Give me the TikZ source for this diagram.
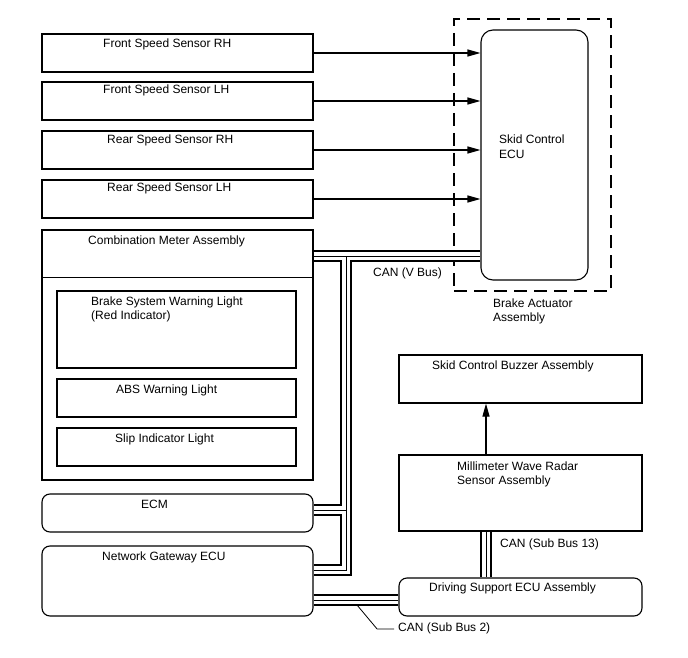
\documentclass[tikz,border=0pt]{standalone}
\usepackage{fontspec}
\setmainfont{Liberation Sans}
\usetikzlibrary{arrows.meta,positioning,calc}
\tikzset{
  box/.style={draw=black, line width=1.1pt, inner sep=0pt},
  rbox/.style={box, rounded corners=8pt},
  lbl/.style={anchor=base west, inner sep=0pt, align=left,
              font=\fontsize{12}{14}\selectfont},
  arrow/.style={-{Triangle[length=13pt,width=7pt]}, line width=1.1pt},
  leader/.style={line width=0.8pt}
}
% three-line CAN bus: thick outer lines, thin middle line
\newcommand{\canbus}[1]{%
  \draw[line width=12pt] #1;
  \draw[white, line width=8pt] #1;
  \draw[line width=0.9pt] #1;}

\begin{document}
\begin{tikzpicture}[x=1pt,y=-1pt]
  \fill[white] (0,0) rectangle (688,658);
  \useasboundingbox (0,0) rectangle (688,658);

  % wheel speed sensors
  \node[box,minimum width=271pt,minimum height=38pt] (fsrh) at (177.5,53) {};
  \node[box,minimum width=271pt,minimum height=38pt] (fslh) at (177.5,101) {};
  \node[box,minimum width=271pt,minimum height=38pt] (rsrh) at (177.5,150) {};
  \node[box,minimum width=271pt,minimum height=38pt] (rslh) at (177.5,199) {};
  \node[lbl] at (103,48) {Front Speed Sensor RH};
  \node[lbl] at (103,94) {Front Speed Sensor LH};
  \node[lbl] at (107,144) {Rear Speed Sensor RH};
  \node[lbl] at (107,191) {Rear Speed Sensor LH};

  % combination meter
  \node[box,minimum width=271pt,minimum height=250pt] (meter) at (177.5,355) {};
  \draw[line width=1.1pt] ([yshift=-48pt]meter.north west) -- ([yshift=-48pt]meter.north east);
  \node[lbl] at (88,244) {Combination Meter Assembly};
  \node[box,minimum width=239pt,minimum height=77pt] (bswl) at (176.5,329.5) {};
  \node[box,minimum width=239pt,minimum height=38pt] (absl) at (176.5,398) {};
  \node[box,minimum width=239pt,minimum height=38pt] (slip) at (176.5,447) {};
  \node[lbl] at (91,319) {Brake System Warning Light\\(Red Indicator)};
  \node[lbl] at (116,393) {ABS Warning Light};
  \node[lbl] at (115,442) {Slip Indicator Light};

  % ECM and gateway
  \node[rbox,minimum width=271pt,minimum height=38pt] (ecm) at (177.5,513) {};
  \node[rbox,minimum width=271pt,minimum height=70pt] (gw) at (177.5,581) {};
  \node[lbl] at (141,508) {ECM};
  \node[lbl] at (102,560) {Network Gateway ECU};

  % brake actuator
  \node[draw=black,line width=1.1pt,dash pattern=on 13pt off 7pt,
        minimum width=157pt,minimum height=272pt] (bact) at (532.5,155) {};
  \node[box,rounded corners=12pt,minimum width=107pt,minimum height=250pt] (skid) at (534.5,155) {};
  \node[lbl] at (499,158) {Skid Control\\ECU};
  \node[lbl] at (493,321) {Brake Actuator\\Assembly};

  % driving support side
  \node[box,minimum width=243pt,minimum height=48pt] (buzz) at (520.5,379) {};
  \node[box,minimum width=243pt,minimum height=76pt] (radar) at (520.5,493) {};
  \node[rbox,minimum width=243pt,minimum height=38pt] (dsecu) at (520.5,597) {};
  \node[lbl] at (432,369) {Skid Control Buzzer Assembly};
  \node[lbl] at (457,484) {Millimeter Wave Radar\\Sensor Assembly};
  \node[lbl] at (429,591) {Driving Support ECU Assembly};

  % sensor signals
  \foreach \s in {fsrh,fslh,rsrh,rslh}
    \draw[arrow] (\s.east) -- (\s.east -| skid.west);
  \draw[arrow] ([xshift=-34.5pt]radar.north) -- ([xshift=-34.5pt]buzz.south);

  % CAN buses
  \coordinate (vbus) at (346,256);
  \coordinate (ecmtap) at (346,510);
  \coordinate (gwtap) at (346,570);
  \coordinate (sb2) at (0,600);
  \canbus{(vbus -| meter.east) -- (vbus -| skid.west) (vbus) -- (gwtap) -- (gwtap -| gw.east) (ecmtap) -- (ecmtap -| ecm.east)}
  \canbus{(sb2 -| gw.east) -- (sb2 -| dsecu.west)}
  \canbus{([xshift=-34.5pt]radar.south) -- ([xshift=-34.5pt]dsecu.north)}
  \node[lbl] (vbuslbl) at (373,276) {CAN (V Bus)};
  \node[lbl] (sb13lbl) at (500,547) {CAN (Sub Bus 13)};
  \node[lbl] (sb2lbl) at (398,631) {CAN (Sub Bus 2)};
  \coordinate (sb2lead) at (357,605);
  \draw[leader] (sb2lead) -- ([xshift=-21pt,yshift=-1pt]sb2lbl.west) -- ([xshift=-4pt,yshift=-1pt]sb2lbl.west);
\end{tikzpicture}
\end{document}
